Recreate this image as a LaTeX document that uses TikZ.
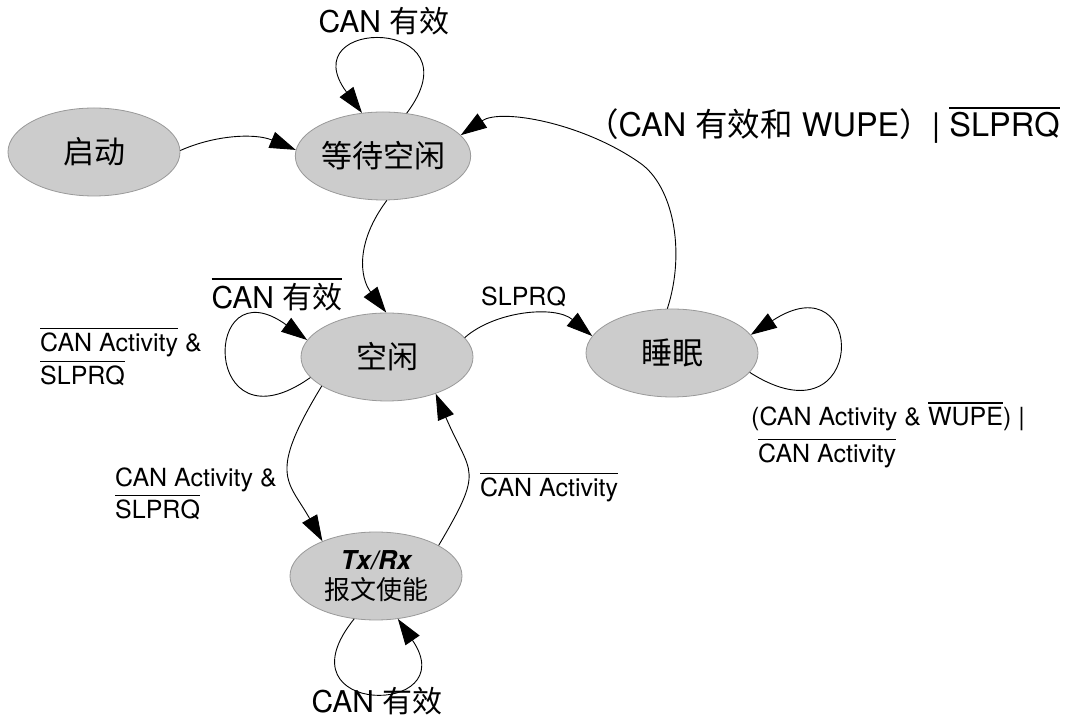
\documentclass[tikz,border=0pt]{standalone}
\usepackage{fontspec}
\setmainfont{TeX Gyre Heros}
\newfontfamily\cjk{Noto Sans CJK SC}
\usetikzlibrary{arrows.meta, shapes.geometric}
\definecolor{stategray}{HTML}{CCCCCC}
\definecolor{stateline}{HTML}{999999}
\newcommand{\ovl}[1]{\vbox{\hrule height 1.3pt\kern 4pt\hbox{#1}}}

\begin{document}
\begin{tikzpicture}[x=1pt, y=1pt,
  stnode/.style={ellipse, fill=stategray, draw=stateline, line width=0.8pt, minimum width=172pt, minimum height=88pt, inner sep=0pt, font=\cjk\fontsize{31}{31}\selectfont},
  trans/.style={line width=0.9pt, -{Triangle[length=26pt, width=17pt]}},
  biglabel/.style={anchor=base, inner sep=0pt, font=\fontsize{30}{36}\selectfont},
  smalllabel/.style={anchor=base west, inner sep=0pt, font=\fontsize{25}{30}\selectfont}]
\useasboundingbox (0.000000,0.000000) rectangle (1066.000000,723.000000);
\node (start) at (94.000000,571.000000) [stnode] {启动};
\node (wait) at (383.000000,567.000000) [stnode] {等待空闲};
\node (idle) at (387.000000,366.000000) [stnode] {空闲};
\node (sleep) at (672.000000,370.000000) [stnode] {睡眠};
\node (txrx) at (376.000000,147.000000) [stnode, align=center, font=\cjk\fontsize{26}{30}\selectfont] {{\rmfamily\bfseries\itshape Tx/Rx}\\报文使能};
\draw [trans] (start.1) .. controls (215.000000,588.000000) and (255.000000,590.000000) .. (wait.176);
\draw [trans] (wait.61) .. controls (480.000000,707.000000) and (290.000000,707.000000) .. (wait.116);
\node (waitloop) at (384.000000,690.000000) [biglabel] {CAN {\cjk 有效}};
\draw [trans] (sleep.96) .. controls (686.000000,472.000000) and (673.000000,537.000000) .. (640.000000,560.000000) .. controls (583.000000,600.000000) and (501.000000,615.000000) .. (wait.15);
\node (wakelabel) at (586.000000,586.000000) [biglabel, anchor=base west, font=\fontsize{32.5}{38}\selectfont] {{\cjk （}CAN {\cjk 有效和} WUPE{\cjk ）}| \ovl{SLPRQ}};
\draw [trans] (wait.-85) .. controls (355.000000,480.000000) and (360.000000,445.000000) .. (idle.91);
\draw [trans] (idle.195) .. controls (201.000000,268.000000) and (201.000000,460.000000) .. (idle.168);
\node (idleloop) at (277.000000,414.000000) [biglabel] {\ovl{CAN {\cjk 有效}}};
\node (idleloopa) at (40.000000,371.000000) [smalllabel] {\ovl{CAN Activity} \&};
\node (idleloopb) at (40.000000,338.000000) [smalllabel] {\ovl{SLPRQ}};
\draw [trans] (idle.14) .. controls (495.000000,412.000000) and (555.000000,418.000000) .. (sleep.168);
\node (sleeplabel) at (481.000000,417.000000) [smalllabel] {SLPRQ};
\draw [trans] (sleep.-14) .. controls (868.000000,275.000000) and (868.000000,465.000000) .. (sleep.13);
\node (sleeploopa) at (751.000000,297.000000) [smalllabel] {(CAN Activity \& \ovl{WUPE}) |};
\node (sleeploopb) at (758.000000,260.000000) [smalllabel] {\ovl{CAN Activity}};
\draw [trans] (idle.204) .. controls (267.000000,247.000000) and (288.000000,243.000000) .. (txrx.147);
\node (sendlabela) at (115.000000,236.000000) [smalllabel] {CAN Activity \&};
\node (sendlabelb) at (115.000000,204.000000) [smalllabel] {\ovl{SLPRQ}};
\draw [trans] (txrx.26) .. controls (485.000000,256.000000) and (471.000000,247.000000) .. (idle.-37);
\node (backlabel) at (480.000000,226.000000) [smalllabel] {\ovl{CAN Activity}};
\draw [trans] (txrx.243) .. controls (275.000000,6.000000) and (465.000000,6.000000) .. (txrx.297);
\node (txrxloop) at (377.000000,10.000000) [biglabel] {CAN {\cjk 有效}};
\end{tikzpicture}
\end{document}
